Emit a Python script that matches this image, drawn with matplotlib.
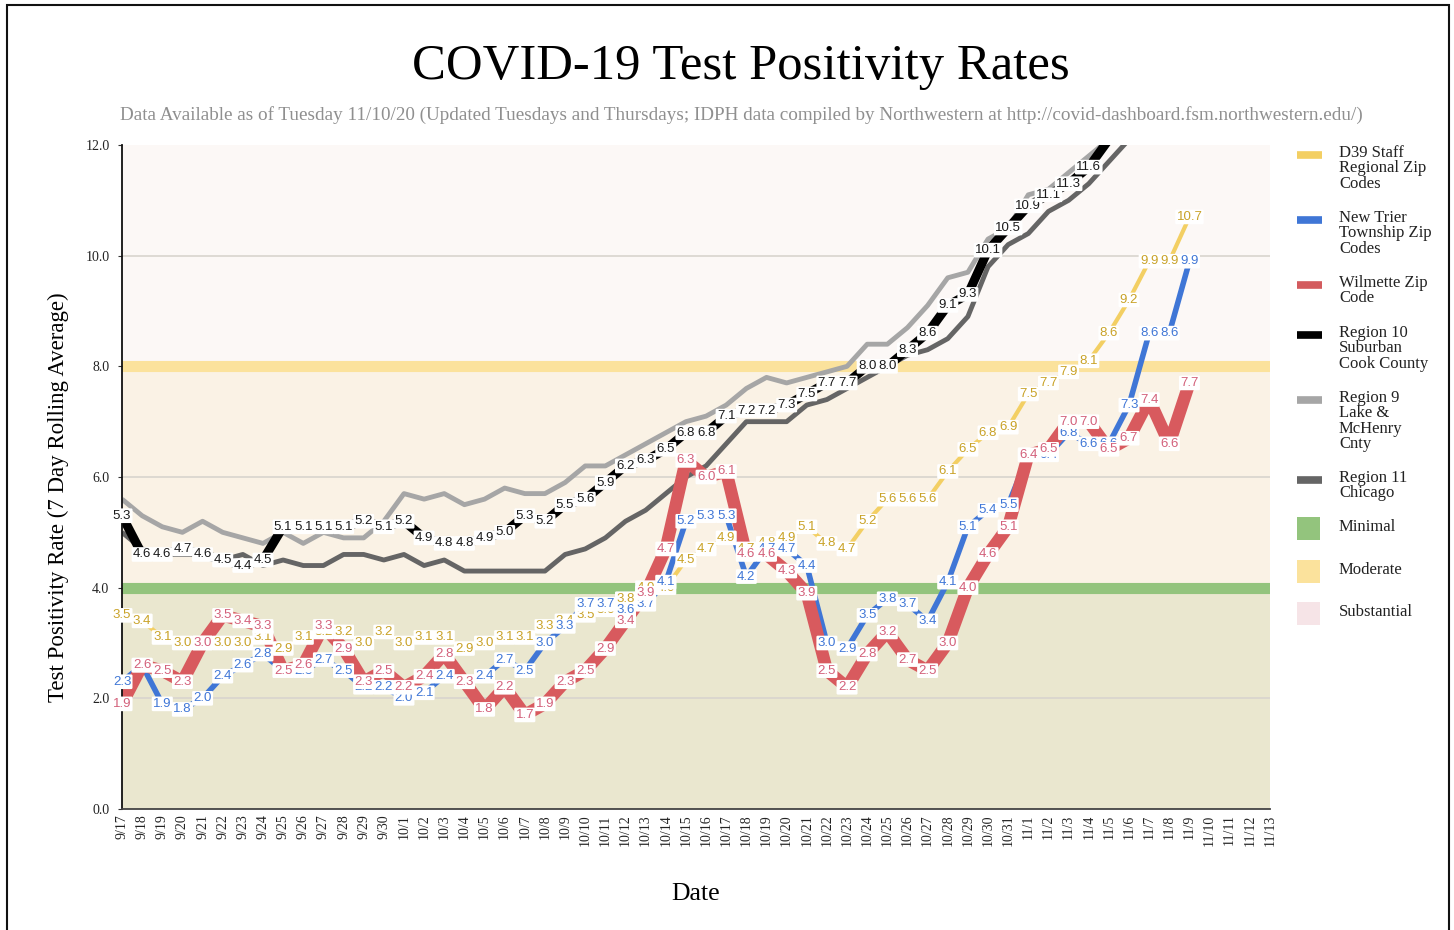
import matplotlib
matplotlib.use('Agg')
import matplotlib.pyplot as plt
from matplotlib.patches import Rectangle
from matplotlib.lines import Line2D

# ---------------- data ----------------
dates = ['9/17', '9/18', '9/19', '9/20', '9/21', '9/22', '9/23', '9/24', '9/25', '9/26',
         '9/27', '9/28', '9/29', '9/30', '10/1', '10/2', '10/3', '10/4', '10/5', '10/6',
         '10/7', '10/8', '10/9', '10/10', '10/11', '10/12', '10/13', '10/14', '10/15', '10/16',
         '10/17', '10/18', '10/19', '10/20', '10/21', '10/22', '10/23', '10/24', '10/25', '10/26',
         '10/27', '10/28', '10/29', '10/30', '10/31', '11/1', '11/2', '11/3', '11/4', '11/5',
         '11/6', '11/7', '11/8', '11/9', '11/10', '11/11', '11/12', '11/13']

d39_staff = [3.5, 3.4, 3.1, 3.0, 3.0, 3.0, 3.0, 3.1, 2.9, 3.1, 3.2, 3.2, 3.0, 3.2,
             3.0, 3.1, 3.1, 2.9, 3.0, 3.1, 3.1, 3.3, 3.4, 3.5, 3.6, 3.8, 4.0, 4.0,
             4.5, 4.7, 4.9, 4.7, 4.8, 4.9, 5.1, 4.8, 4.7, 5.2, 5.6, 5.6, 5.6, 6.1,
             6.5, 6.8, 6.9, 7.5, 7.7, 7.9, 8.1, 8.6, 9.2, 9.9, 9.9, 10.7]

new_trier = [2.3, 2.6, 1.9, 1.8, 2.0, 2.4, 2.6, 2.8, 2.5, 2.5, 2.7, 2.5, 2.2, 2.2,
             2.0, 2.1, 2.4, 2.3, 2.4, 2.7, 2.5, 3.0, 3.3, 3.7, 3.7, 3.6, 3.7, 4.1,
             5.2, 5.3, 5.3, 4.2, 4.7, 4.7, 4.4, 3.0, 2.9, 3.5, 3.8, 3.7, 3.4, 4.1,
             5.1, 5.4, 5.5, 6.4, 6.4, 6.8, 6.6, 6.6, 7.3, 8.6, 8.6, 9.9]

wilmette = [1.9, 2.6, 2.5, 2.3, 3.0, 3.5, 3.4, 3.3, 2.5, 2.6, 3.3, 2.9, 2.3, 2.5,
            2.2, 2.4, 2.8, 2.3, 1.8, 2.2, 1.7, 1.9, 2.3, 2.5, 2.9, 3.4, 3.9, 4.7,
            6.3, 6.0, 6.1, 4.6, 4.6, 4.3, 3.9, 2.5, 2.2, 2.8, 3.2, 2.7, 2.5, 3.0,
            4.0, 4.6, 5.1, 6.4, 6.5, 7.0, 7.0, 6.5, 6.7, 7.4, 6.6, 7.7]

region10 = [5.3, 4.6, 4.6, 4.7, 4.6, 4.5, 4.4, 4.5, 5.1, 5.1, 5.1, 5.1, 5.2, 5.1,
            5.2, 4.9, 4.8, 4.8, 4.9, 5.0, 5.3, 5.2, 5.5, 5.6, 5.9, 6.2, 6.3, 6.5,
            6.8, 6.8, 7.1, 7.2, 7.2, 7.3, 7.5, 7.7, 7.7, 8.0, 8.0, 8.3, 8.6, 9.1,
            9.3, 10.1, 10.5, 10.9, 11.1, 11.3, 11.6, 12.1]

region9 = [5.6, 5.3, 5.1, 5.0, 5.2, 5.0, 4.9, 4.8, 5.0, 4.8, 5.0, 4.9, 4.9, 5.2,
           5.7, 5.6, 5.7, 5.5, 5.6, 5.8, 5.7, 5.7, 5.9, 6.2, 6.2, 6.4, 6.6, 6.8,
           7.0, 7.1, 7.3, 7.6, 7.8, 7.7, 7.8, 7.9, 8.0, 8.4, 8.4, 8.7, 9.1, 9.6,
           9.7, 10.3, 10.5, 11.1, 11.2, 11.5, 11.8, 12.1]

region11 = [5.0, 4.7, 4.6, 4.6, 4.6, 4.5, 4.6, 4.4, 4.5, 4.4, 4.4, 4.6, 4.6, 4.5,
            4.6, 4.4, 4.5, 4.3, 4.3, 4.3, 4.3, 4.3, 4.6, 4.7, 4.9, 5.2, 5.4, 5.7,
            6.0, 6.2, 6.6, 7.0, 7.0, 7.0, 7.3, 7.4, 7.6, 7.8, 8.0, 8.2, 8.3, 8.5,
            8.9, 9.8, 10.2, 10.4, 10.8, 11.0, 11.3, 11.7, 12.1]

y_ticks = [0, 2, 4, 6, 8, 10, 12]
band_edges = [0, 4, 8, 12]

# ---------------- styling ----------------
W, H = 1454, 930
SERIF = ['Liberation Serif', 'DejaVu Serif']
SANS = ['Liberation Sans', 'DejaVu Sans']

C_YEL, C_YEL_T = '#f3cf63', '#c9a227'
C_BLUE, C_BLUE_T = '#3f76d6', '#3f76d6'
C_RED, C_RED_T = '#d85a5e', '#d3607a'
C_BLK = '#000000'
C_R9 = '#a6a6a6'
C_R11 = '#656565'
BAND_COLS = ['#eae7cf', '#faf2e5', '#fcf8f6']

fig = plt.figure(figsize=(W / 100, H / 100), dpi=100)
fig.patch.set_facecolor('white')

def fx(px):
    return px / W

def fy(py):
    return 1 - py / H

ax = fig.add_axes([fx(122), fy(809), fx(1270) - fx(122), fy(145) - fy(809)])
ax.set_xlim(0, len(dates) - 1)
ax.set_ylim(0, 12)

for (lo, hi), col in zip(zip(band_edges[:-1], band_edges[1:]), BAND_COLS):
    ax.axhspan(lo, hi, color=col, zorder=0, lw=0)
for g in [2, 6, 10]:
    ax.axhline(g, color='#d8d4ce', lw=1.2, zorder=1)
ax.axhline(4, color='#93c47d', lw=8, zorder=1.5)
ax.axhline(8, color='#fbe29c', lw=8, zorder=1.5)

def draw_line(vals, color, lw, z):
    ax.plot(range(len(vals)), vals, color=color, lw=lw, zorder=z,
            solid_joinstyle='round', solid_capstyle='butt')

draw_line(region9, C_R9, 3.5, 2.0)
draw_line(region11, C_R11, 3.5, 2.1)
draw_line(d39_staff, C_YEL, 3, 2.2)
draw_line(new_trier, C_BLUE, 4, 2.3)
draw_line(wilmette, C_RED, 9, 2.4)
draw_line(region10, C_BLK, 6.5, 2.5)

def draw_labels(vals, color, z):
    for i, v in enumerate(vals):
        if v > 12:
            continue
        ax.text(i, v, f'{v:.1f}', ha='center', va='center', fontsize=9.5,
                color=color, family=SANS, zorder=z, clip_on=False,
                bbox=dict(boxstyle='round,pad=0.1', fc='white', ec='none'))

draw_labels(d39_staff, C_YEL_T, 5)
draw_labels(new_trier, C_BLUE_T, 6)
draw_labels(wilmette, C_RED_T, 7)
draw_labels(region10, '#1a1a1a', 8)

ax.set_xticks(range(len(dates)))
ax.set_xticklabels(dates, rotation=90, fontsize=10, family=SERIF, color='#222222')
ax.set_yticks(y_ticks)
ax.set_yticklabels([f'{t:.1f}' for t in y_ticks], fontsize=10, family=SERIF, color='#222222')
ax.tick_params(axis='x', length=0, pad=4)
ax.tick_params(axis='y', length=3, pad=6, color='#333333')
for s in ['top', 'right']:
    ax.spines[s].set_visible(False)
ax.spines['left'].set_color('#111111')
ax.spines['left'].set_linewidth(1.3)
ax.spines['bottom'].set_color('#444444')
ax.spines['bottom'].set_linewidth(1.3)

# titles and axis labels
fig.text(fx(741), fy(67), 'COVID-19 Test Positivity Rates', ha='center', va='center',
         fontsize=36.5, family=SERIF, color='#000000')
fig.text(fx(741), fy(115),
         'Data Available as of Tuesday 11/10/20 (Updated Tuesdays and Thursdays; IDPH data compiled by Northwestern at http://covid-dashboard.fsm.northwestern.edu/)',
         ha='center', va='center', fontsize=13.8, family=SERIF, color='#8f8f8f')
fig.text(fx(58), fy(497), 'Test Positivity Rate (7 Day Rolling Average)', rotation=90,
         ha='center', va='center', fontsize=16.5, family=SERIF, color='#000000')
fig.text(fx(696), fy(894), 'Date', ha='center', va='center', fontsize=18.5,
         family=SERIF, color='#000000')

# legend (manual)
legend_items = [
    ('line', C_YEL, 'D39 Staff\nRegional Zip\nCodes', 145),
    ('line', C_BLUE, 'New Trier\nTownship Zip\nCodes', 210),
    ('line', '#d35b5e', 'Wilmette Zip\nCode', 275),
    ('line', C_BLK, 'Region 10\nSuburban\nCook County', 325),
    ('line', C_R9, 'Region 9\nLake &\nMcHenry\nCnty', 390),
    ('line', C_R11, 'Region 11\nChicago', 470),
    ('box', '#93c47d', 'Minimal', 519),
    ('box', '#fbe29c', 'Moderate', 562),
    ('box', '#f6e4e7', 'Substantial', 604),
]
for kind, col, label, top in legend_items:
    cy = top + 10
    if kind == 'line':
        fig.add_artist(Line2D([fx(1297), fx(1322)], [fy(cy), fy(cy)], color=col, lw=5.5,
                              transform=fig.transFigure, solid_capstyle='butt'))
    else:
        fig.add_artist(Rectangle((fx(1297), fy(cy + 11)), fx(23), 23 / H, color=col,
                                 transform=fig.transFigure, lw=0))
    fig.text(fx(1339), fy(top), label, ha='left', va='top', fontsize=12,
             family=SERIF, color='#222222', linespacing=0.95)

# outer frame of the screenshot
fig.add_artist(Rectangle((fx(7), -0.02), fx(1449) - fx(7), fy(5) + 0.02, fill=False,
                         ec='#111111', lw=1.5, transform=fig.transFigure))

fig.savefig('out.png', dpi=100, facecolor='white')
